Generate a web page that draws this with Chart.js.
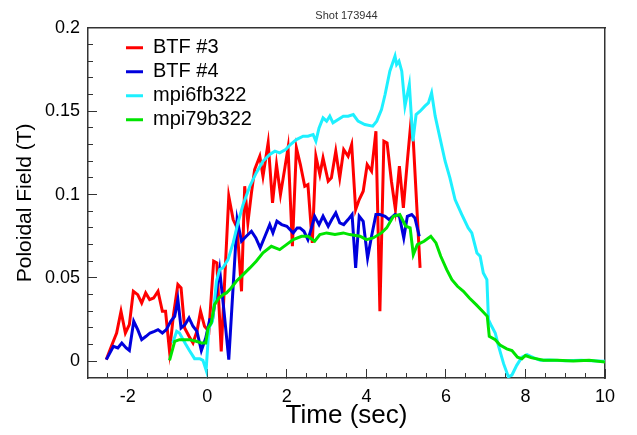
<!DOCTYPE html>
<html lang="en">
  <head>
    <meta charset="UTF-8" />
    <title>Shot 173944</title>
    <script src="https://cdn.jsdelivr.net/npm/chart.js@4.4.0/dist/chart.umd.min.js"></script>
    <style>
      body { margin: 0; background: #fff; }
    </style>
  </head>
  <body>
    <canvas id="chart" width="637" height="435"></canvas>
    <script>
      // BTF #3 probe
      const btf3Time = [-2.54, -2.38, -2.28, -2.17, -2.06, -1.96, -1.86, -1.75, -1.65, -1.55, -1.45, -1.35, -1.24, -1.13, -1.05, -0.95, -0.85, -0.74, -0.66, -0.57, -0.46, -0.36, -0.26, -0.17, -0.07, 0.04, 0.16, 0.24, 0.35, 0.54, 0.65, 0.75, 0.86, 0.94, 1.02, 1.11, 1.19, 1.32, 1.40, 1.53, 1.64, 1.74, 1.84, 1.95, 2.03, 2.14, 2.24, 2.34, 2.45, 2.53, 2.64, 2.73, 2.83, 2.91, 3.04, 3.12, 3.23, 3.33, 3.43, 3.54, 3.63, 3.73, 3.82, 3.92, 4.02, 4.13, 4.24, 4.34, 4.44, 4.52, 4.63, 4.73, 4.83, 4.93, 5.03, 5.11, 5.18, 5.35]
      const btf3Field = [0.001, 0.011, 0.017, 0.030, 0.017, 0.022, 0.042, 0.040, 0.035, 0.041, 0.037, 0.038, 0.042, 0.030, 0.030, 0.006, 0.028, 0.046, 0.044, 0.020, 0.015, 0.011, 0.018, 0.030, 0.021, 0.018, 0.060, 0.059, 0.006, 0.099, 0.085, 0.080, 0.042, 0.105, 0.083, 0.101, 0.115, 0.123, 0.111, 0.131, 0.095, 0.118, 0.100, 0.116, 0.128, 0.069, 0.128, 0.118, 0.105, 0.106, 0.071, 0.123, 0.112, 0.122, 0.108, 0.110, 0.126, 0.110, 0.127, 0.123, 0.130, 0.091, 0.097, 0.102, 0.118, 0.114, 0.138, 0.030, 0.132, 0.131, 0.108, 0.091, 0.117, 0.092, 0.120, 0.141, 0.132, 0.056]

      // BTF #4 probe
      const btf4Time = [-2.54, -2.36, -2.25, -2.15, -2.04, -1.96, -1.85, -1.75, -1.65, -1.54, -1.44, -1.33, -1.24, -1.13, -1.03, -0.92, -0.82, -0.74, -0.66, -0.56, -0.46, -0.36, -0.26, -0.15, -0.04, 0.06, 0.13, 0.22, 0.31, 0.42, 0.54, 0.75, 0.86, 0.98, 1.11, 1.22, 1.33, 1.45, 1.57, 1.65, 1.75, 1.87, 2.00, 2.16, 2.26, 2.33, 2.43, 2.53, 2.62, 2.70, 2.81, 2.91, 3.04, 3.13, 3.23, 3.33, 3.43, 3.54, 3.64, 3.73, 3.82, 3.92, 4.03, 4.13, 4.24, 4.34, 4.47, 4.57, 4.72, 4.83, 4.94, 5.03, 5.14, 5.22, 5.33]
      const btf4Field = [0.001, 0.009, 0.008, 0.011, 0.008, 0.0065, 0.024, 0.019, 0.013, 0.015, 0.017, 0.018, 0.019, 0.017, 0.019, 0.024, 0.027, 0.037, 0.020, 0.022, 0.026, 0.021, 0.018, 0.0065, 0.014, 0.025, 0.025, 0.040, 0.055, 0.030, 0.001, 0.085, 0.072, 0.075, 0.078, 0.074, 0.068, 0.075, 0.082, 0.077, 0.084, 0.082, 0.081, 0.077, 0.080, 0.080, 0.078, 0.073, 0.080, 0.087, 0.082, 0.087, 0.081, 0.085, 0.089, 0.083, 0.082, 0.085, 0.088, 0.056, 0.087, 0.084, 0.062, 0.075, 0.088, 0.088, 0.087, 0.085, 0.088, 0.087, 0.074, 0.087, 0.088, 0.086, 0.075]

      // magnetic probe mpi6fb322
      const mpi6fTime = [-0.87, -0.77, -0.70, -0.55, -0.45, -0.32, -0.19, -0.11, -0.03, 0.04, 0.13, 0.23, 0.31, 0.39, 0.52, 0.65, 0.77, 0.90, 1.07, 1.23, 1.40, 1.57, 1.70, 1.82, 1.97, 2.09, 2.24, 2.41, 2.53, 2.66, 2.73, 2.81, 2.91, 3.00, 3.08, 3.16, 3.29, 3.42, 3.54, 3.67, 3.79, 3.96, 4.16, 4.26, 4.38, 4.47, 4.59, 4.72, 4.76, 4.82, 4.89, 4.97, 5.08, 5.17, 5.25, 5.35, 5.47, 5.56, 5.64, 5.73, 5.85, 5.98, 6.10, 6.23, 6.40, 6.56, 6.65, 6.78, 6.86, 6.94, 7.03, 7.07, 7.15, 7.24, 7.32, 7.45, 7.57, 7.66, 7.78, 7.91, 8.04, 8.20, 8.37, 8.60, 9.00, 9.40, 9.80, 10.00]
      const mpi6fField = [0.011, 0.018, 0.017, 0.0105, 0.0065, 0.0016, 0.0016, 0.0006, -0.0053, 0.020, 0.024, 0.048, 0.055, 0.056, 0.061, 0.071, 0.083, 0.094, 0.105, 0.113, 0.120, 0.124, 0.126, 0.125, 0.127, 0.130, 0.133, 0.135, 0.135, 0.136, 0.132, 0.140, 0.146, 0.144, 0.147, 0.143, 0.145, 0.147, 0.147, 0.148, 0.144, 0.142, 0.141, 0.144, 0.151, 0.160, 0.174, 0.183, 0.178, 0.180, 0.174, 0.153, 0.166, 0.132, 0.148, 0.150, 0.153, 0.155, 0.161, 0.147, 0.134, 0.120, 0.110, 0.097, 0.088, 0.080, 0.077, 0.065, 0.063, 0.053, 0.049, 0.025, 0.021, 0.017, 0.0094, -0.0014, -0.0092, -0.0082, -0.0024, 0.0025, 0.0040, 0.0022, 0.0006, 0.0008, 0.0004, 0.0006, 0.0002, 0.0]

      // magnetic probe mpi79b322
      const mpi79Time = [-0.95, -0.82, -0.70, -0.58, -0.45, -0.28, -0.15, -0.04, 0.02, 0.10, 0.18, 0.29, 0.40, 0.48, 0.60, 0.73, 0.90, 1.07, 1.23, 1.40, 1.61, 1.82, 1.99, 2.16, 2.37, 2.53, 2.70, 2.83, 3.00, 3.21, 3.42, 3.58, 3.84, 4.00, 4.17, 4.38, 4.51, 4.68, 4.84, 4.99, 5.10, 5.18, 5.28, 5.45, 5.62, 5.75, 5.87, 6.02, 6.15, 6.29, 6.44, 6.59, 6.76, 6.92, 7.04, 7.09, 7.24, 7.36, 7.53, 7.66, 7.80, 7.91, 8.00, 8.14, 8.45, 8.80, 9.20, 9.60, 10.00]
      const mpi79Field = [0.0006, 0.012, 0.013, 0.013, 0.013, 0.012, 0.011, 0.011, 0.020, 0.023, 0.034, 0.038, 0.040, 0.041, 0.044, 0.048, 0.052, 0.056, 0.060, 0.065, 0.069, 0.067, 0.070, 0.073, 0.075, 0.075, 0.072, 0.076, 0.077, 0.076, 0.077, 0.076, 0.075, 0.073, 0.074, 0.077, 0.080, 0.087, 0.088, 0.081, 0.080, 0.064, 0.070, 0.072, 0.075, 0.071, 0.063, 0.055, 0.049, 0.045, 0.042, 0.038, 0.034, 0.030, 0.027, 0.015, 0.013, 0.0098, 0.0075, 0.0065, 0.0025, 0.0015, 0.0035, 0.0022, 0.0006, 0.0006, 0.0002, 0.0006, -0.0004]

      const seriesNames = ['BTF #3', 'BTF #4', 'mpi6fb322', 'mpi79b322']
      const seriesColors = ['#ff0000', '#0000dd', '#1ef0ff', '#00e400']
      const xTickValues = [-2, 0, 2, 4, 6, 8, 10]
      const yTickValues = [0, 0.05, 0.1, 0.15, 0.2]
      const xMinorValues = [-2.5, -1.5, -1, -0.5, 0.5, 1, 1.5, 2.5, 3, 3.5, 4.5, 5, 5.5, 6.5, 7, 7.5, 8.5, 9, 9.5]
      const yMinorValues = [0.01, 0.02, 0.03, 0.04, 0.06, 0.07, 0.08, 0.09, 0.11, 0.12, 0.13, 0.14, 0.16, 0.17, 0.18, 0.19]

      const FONT = "'Liberation Sans', Arial, sans-serif"
      const AXIS = '#333'

      const pairs = (t, v) => t.map((x, i) => ({ x: x, y: v[i] }))
      const series = [
        pairs(btf3Time, btf3Field),
        pairs(btf4Time, btf4Field),
        pairs(mpi6fTime, mpi6fField),
        pairs(mpi79Time, mpi79Field),
      ]

      // helper for the extra axes: no labels, zero thickness, only ticks or border
      const bareAxis = (position, min, max, opts) => Object.assign({
        type: 'linear',
        position: position,
        min: min,
        max: max,
        ticks: { display: false },
        grid: { drawOnChartArea: false, drawTicks: false },
        border: { display: false },
        afterFit: (s) => { if (s.isHorizontal()) s.height = 0; else s.width = 0 },
      }, opts)

      // legend sits inside the plot, nudged away from the corner
      const legendOffset = {
        id: 'legendOffset',
        afterLayout(chart) {
          const lg = chart.legend
          const a = chart.chartArea
          lg.left = a.left + 34
          lg.top = a.top + 6
          lg.bottom = a.bottom
        },
      }

      const myChart = new Chart(document.getElementById('chart'), {
        type: 'line',
        data: {
          datasets: series.map((d, i) => ({
            label: seriesNames[i],
            data: d,
            xAxisID: 'x',
            yAxisID: 'y',
            borderColor: seriesColors[i],
            backgroundColor: seriesColors[i],
            borderWidth: 3,
            pointRadius: 0,
            tension: 0,
            order: 4 - i,
          })),
        },
        options: {
          responsive: false,
          animation: false,
          devicePixelRatio: 1,
          layout: { autoPadding: false, padding: { left: 0, right: 32, top: 0, bottom: 0 } },
          scales: {
            x: {
              type: 'linear',
              position: 'bottom',
              min: -3,
              max: 10,
              afterFit: (s) => { s.height = 57 },
              afterBuildTicks: (s) => { s.ticks = xTickValues.map((v) => ({ value: v })) },
              grid: { drawOnChartArea: false, drawTicks: true, tickLength: -9, tickColor: AXIS },
              border: { display: true, color: AXIS, width: 1.5 },
              ticks: {
                color: '#000',
                padding: 17,
                maxRotation: 0,
                font: { family: FONT, size: 18 },
                callback: (v) => String(v),
              },
              title: {
                display: true,
                text: 'Time (sec)',
                color: '#000',
                font: { family: FONT, size: 26 },
                padding: { top: 0, bottom: 4 },
              },
            },
            xMinor: bareAxis('bottom', -3, 10, {
              weight: -1,
              afterBuildTicks: (s) => { s.ticks = xMinorValues.map((v) => ({ value: v })) },
              grid: { drawOnChartArea: false, drawTicks: true, tickLength: -5, tickColor: AXIS },
            }),
            xTop: bareAxis('top', -3, 10, {
              border: { display: true, color: AXIS, width: 1.5 },
            }),
            y: {
              min: -0.01,
              max: 0.2,
              afterFit: (s) => { s.width = 88 },
              afterBuildTicks: (s) => { s.ticks = yTickValues.map((v) => ({ value: v })) },
              grid: { drawOnChartArea: false, drawTicks: true, tickLength: -9, tickColor: AXIS },
              border: { display: true, color: AXIS, width: 1.5 },
              ticks: {
                color: '#000',
                padding: 17,
                font: { family: FONT, size: 18 },
                callback: (v) => String(+v.toFixed(2)),
              },
              title: {
                display: true,
                text: 'Poloidal Field (T)',
                color: '#000',
                font: { family: FONT, size: 21 },
                padding: { top: 13, bottom: 0 },
              },
            },
            yMinor: bareAxis('left', -0.01, 0.2, {
              weight: -1,
              afterBuildTicks: (s) => { s.ticks = yMinorValues.map((v) => ({ value: v })) },
              grid: { drawOnChartArea: false, drawTicks: true, tickLength: -5, tickColor: AXIS },
            }),
            yRight: bareAxis('right', -0.01, 0.2, {
              border: { display: true, color: AXIS, width: 1.5 },
            }),
          },
          plugins: {
            title: {
              display: true,
              text: 'Shot 173944',
              color: '#333',
              fullSize: false,
              font: { family: FONT, size: 11, weight: 'normal' },
              padding: { top: 4, bottom: 4.8 },
            },
            legend: {
              position: 'chartArea',
              align: 'start',
              labels: {
                usePointStyle: true,
                pointStyle: 'line',
                pointStyleWidth: 17,
                padding: 4,
                color: '#000',
                font: { family: FONT, size: 20 },
                sort: (a, b) => a.datasetIndex - b.datasetIndex,
              },
            },
            tooltip: { enabled: false },
          },
        },
        plugins: [legendOffset],
      })
    </script>
  </body>
</html>
